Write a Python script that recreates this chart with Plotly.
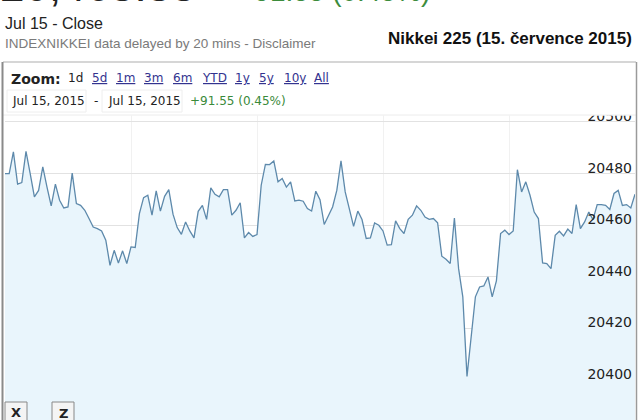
import plotly.graph_objects as go

# ---- data ----
# trading minutes since 09:00 (lunch break 11:30-12:30 collapsed), 2-minute samples
minutes = list(range(0, 302, 2))
values = [
    20480.0, 20480.0, 20488.4, 20475.9, 20476.5, 20488.6, 20480.0, 20471.0, 20473.5, 20482.6,
    20474.8, 20467.5, 20475.9, 20469.7, 20466.7, 20467.1, 20480.2, 20468.4, 20467.7, 20465.8,
    20462.6, 20459.3, 20458.7, 20457.8, 20454.2, 20444.5, 20450.3, 20445.4, 20450.1, 20445.2,
    20451.6, 20451.4, 20464.5, 20470.7, 20471.6, 20463.9, 20473.3, 20465.5, 20471.2, 20473.8,
    20464.3, 20459.1, 20456.5, 20461.3, 20457.8, 20455.1, 20465.4, 20467.7, 20462.3, 20474.5,
    20472.0, 20471.0, 20473.8, 20473.8, 20463.9, 20465.8, 20468.7, 20455.1, 20457.2, 20455.7,
    20456.4, 20475.5, 20483.6, 20483.5, 20484.9, 20476.8, 20478.1, 20474.8, 20476.8, 20469.4,
    20469.7, 20469.3, 20466.5, 20465.5, 20473.2, 20469.9, 20460.3, 20463.5, 20467.1, 20473.5,
    20484.9, 20472.9, 20465.8, 20459.6, 20465.5, 20462.2, 20454.9, 20455.1, 20460.9, 20460.0,
    20457.8, 20452.3, 20452.5, 20461.7, 20458.7, 20456.8, 20462.3, 20463.9, 20467.5, 20465.8,
    20463.2, 20462.3, 20462.6, 20461.0, 20448.0, 20446.8, 20445.2, 20462.8, 20443.2, 20432.3,
    20401.5, 20416.8, 20432.3, 20436.1, 20436.5, 20440.0, 20432.3, 20438.5, 20456.8, 20458.1,
    20456.4, 20457.8, 20481.5, 20472.9, 20476.8, 20471.6, 20465.1, 20462.6, 20445.4, 20445.2,
    20443.2, 20456.1, 20457.7, 20455.9, 20458.5, 20456.8, 20468.0, 20458.7, 20461.3, 20465.1,
    20462.2, 20468.0, 20468.0, 20467.7, 20466.1, 20472.3, 20473.5, 20467.7, 20468.0, 20466.7,
    20472.0,
]
y_ticks = [20400, 20420, 20440, 20460, 20480, 20500]
x_grid = [60, 120, 180, 240]  # 10:00, 11:00, 13:00, 14:00

title_text = "Nikkei 225 (15. července 2015)"
close_label = "Jul 15 - Close"
source_text = "INDEXNIKKEI data delayed by 20 mins - Disclaimer"
big_price = "20,463.33"
big_change = "+91.55 (0.45%)"
zoom_links = ["5d", "1m", "3m", "6m", "YTD", "1y", "5y", "10y", "All"]
date_from = "Jul 15, 2015"
date_to = "Jul 15, 2015"
change_text = "+91.55 (0.45%)"

W, H = 640, 420
ML, MR, MT, MB = 5, 5, 100, 0
PW, PH = W - ML - MR, H - MT - MB


def px(x):
    return (x - ML) / PW


def py(y):
    return (H - MB - y) / PH


fig = go.Figure()
fig.add_trace(go.Scatter(
    x=minutes, y=values, mode="lines",
    line=dict(color="#5d89ab", width=1.3),
    fill="tozeroy", fillcolor="#e9f5fc",
    hoverinfo="skip", showlegend=False,
))

shapes = []
# header box cover (hides anything drawn above the visible plot area) and borders
shapes.append(dict(type="rect", xref="paper", yref="paper", layer="above",
                   x0=px(0), x1=px(640), y0=py(115.5), y1=py(62),
                   fillcolor="white", line=dict(width=0)))
shapes.append(dict(type="line", xref="paper", yref="paper", layer="above",
                   x0=px(3), x1=px(636), y0=py(62), y1=py(62),
                   line=dict(color="#c8c8c8", width=1.5)))
shapes.append(dict(type="line", xref="paper", yref="paper", layer="above",
                   x0=px(3), x1=px(636), y0=py(115), y1=py(115),
                   line=dict(color="#ececec", width=1)))
shapes.append(dict(type="line", xref="paper", yref="paper", layer="above",
                   x0=px(2.5), x1=px(2.5), y0=py(62), y1=py(420),
                   line=dict(color="#8a8a8a", width=2)))
shapes.append(dict(type="line", xref="paper", yref="paper", layer="above",
                   x0=px(636.5), x1=px(636.5), y0=py(62), y1=py(420),
                   line=dict(color="#9a9a9a", width=1.5)))
# date boxes
for x0, x1 in [(7, 86), (102, 182)]:
    shapes.append(dict(type="rect", xref="paper", yref="paper", layer="above",
                       x0=px(x0), x1=px(x1), y0=py(112), y1=py(90),
                       fillcolor="white", line=dict(color="#eeeeee", width=1)))
# X / Z buttons
for x0, x1 in [(5, 27), (52, 74)]:
    shapes.append(dict(type="rect", xref="paper", yref="paper", layer="above",
                       x0=px(x0), x1=px(x1), y0=py(425), y1=py(402),
                       fillcolor="#f4f4f4", line=dict(color="#888888", width=1)))

ann = []


def text(x, y, s, size, color="#222", family="Liberation Sans", xanchor="left", yanchor="middle"):
    ann.append(dict(xref="paper", yref="paper", x=px(x), y=py(y), text=s, showarrow=False,
                    xanchor=xanchor, yanchor=yanchor,
                    font=dict(size=size, color=color, family=family)))


# top cut-off big quote
text(-2, 12.5, big_price, 44, "#222", "Liberation Sans", yanchor="bottom")
text(236, 8.5, big_change, 28, "#3c8c3c", "Liberation Sans", yanchor="bottom")
text(3, 24, close_label, 16, "#222")
text(3, 44, source_text, 13.5, "#7a7a7a")
text(634, 39, "<b>" + title_text + "</b>", 17, "#111", "Liberation Sans", xanchor="right")

# zoom row
text(9, 79, "<b>Zoom:</b>", 14, "#222", "DejaVu Sans")
text(66, 78, "1d", 12, "#222", "DejaVu Sans")
zx = [90, 114, 142, 171, 200, 233, 257, 282, 312]
for xx, lab in zip(zx, zoom_links):
    text(xx, 78, "<u>" + lab + "</u>", 12, "#33338f", "DejaVu Sans")

# date row
text(10, 101, date_from, 12, "#222", "DejaVu Sans")
text(92, 101, "-", 12, "#222", "DejaVu Sans")
text(106, 101, date_to, 12, "#222", "DejaVu Sans")
text(188, 101, change_text, 12, "#3a8a3a", "DejaVu Sans")

# buttons
text(16, 412, "<b>X</b>", 13, "#222", "DejaVu Sans", xanchor="center")
text(63, 413, "<b>Z</b>", 13, "#222", "DejaVu Sans", xanchor="center")
# partially visible lowest tick label
text(630, 430, "20380", 14, "#222", "DejaVu Sans", xanchor="right")

fig.update_layout(
    width=W, height=H,
    margin=dict(l=ML, r=MR, t=MT, b=MB),
    paper_bgcolor="white", plot_bgcolor="white",
    shapes=shapes, annotations=ann,
    showlegend=False,
    xaxis=dict(range=[0, 300], tickvals=x_grid, showticklabels=False,
               showgrid=True, gridcolor="#f1f1f1", gridwidth=1,
               zeroline=False, showline=False, ticks=""),
    yaxis=dict(range=[20384.6, 20508.5], side="right", tickvals=y_ticks,
               tickformat="d",
               ticklabelposition="inside", ticklabelshift=-6,
               tickfont=dict(family="DejaVu Sans", size=14, color="#222"),
               showgrid=True, gridcolor="#e2e2e2", gridwidth=1,
               zeroline=False, showline=False, ticks=""),
)

fig.write_html("out.html", config={"displayModeBar": False},
               post_script="document.body.style.margin='0';document.body.style.overflow='hidden';")
